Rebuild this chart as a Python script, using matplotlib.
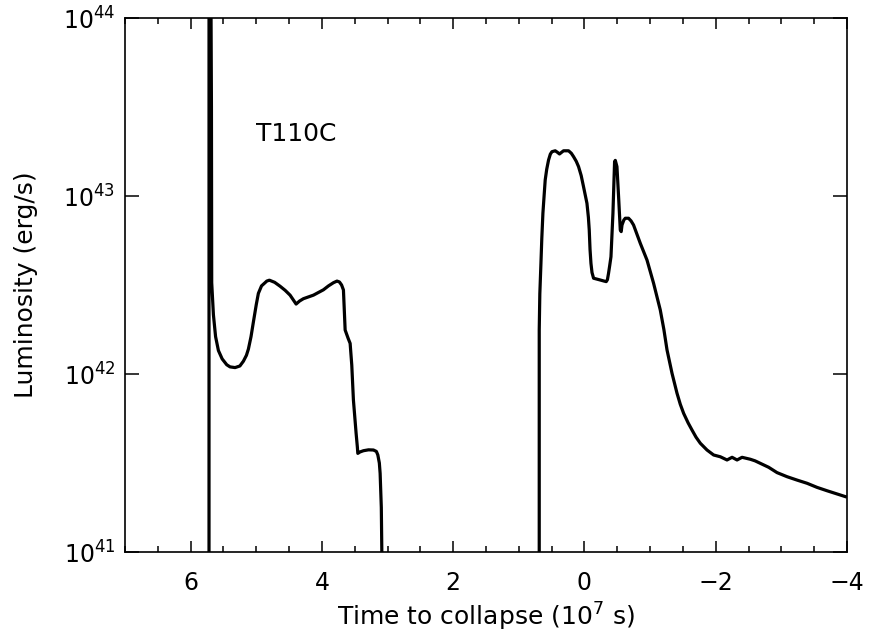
import numpy as np
import matplotlib
matplotlib.use('Agg')
import matplotlib.pyplot as plt
from matplotlib.ticker import MultipleLocator, LogLocator, NullLocator

# first phase (time in 1e7 s, log10 luminosity)
t1 = [5.72, 5.72, 5.695, 5.683, 5.679, 5.653, 5.62, 5.577, 5.52, 5.450, 5.40, 5.323,
      5.25, 5.196, 5.150, 5.120, 5.08, 5.044, 5.00, 4.968, 4.92, 4.866, 4.84, 4.800,
      4.72, 4.637, 4.56, 4.485, 4.393, 4.34, 4.282, 4.129, 3.977, 3.90, 3.824, 3.77,
      3.733, 3.70, 3.672, 3.646, 3.600, 3.570, 3.545, 3.520, 3.479, 3.46, 3.453,
      3.42, 3.367, 3.29, 3.215, 3.17, 3.148, 3.125, 3.113, 3.095, 3.087, 3.083]
logL1 = [40.5, 44.5, 44.5, 43.5, 42.513, 42.333, 42.21, 42.132, 42.085, 42.052, 42.040, 42.036,
         42.045, 42.072, 42.105, 42.14, 42.21, 42.292, 42.39, 42.453, 42.495, 42.513, 42.522, 42.527,
         42.515, 42.493, 42.47, 42.443, 42.393, 42.41, 42.423, 42.443, 42.473, 42.495, 42.513, 42.522,
         42.517, 42.50, 42.472, 42.247, 42.20, 42.172, 42.05, 41.854, 41.667, 41.59, 41.554,
         41.562, 41.569, 41.574, 41.573, 41.565, 41.545, 41.50, 41.442, 41.25, 41.0, 40.5]

# second phase
t2 = [0.689, 0.689, 0.680, 0.663, 0.650, 0.633, 0.615, 0.598, 0.575, 0.547, 0.520, 0.495,
      0.445, 0.410, 0.380, 0.350, 0.319, 0.242, 0.200, 0.166, 0.125, 0.090, 0.050, 0.014,
      -0.038, -0.060, -0.073, -0.085, -0.099, -0.115, -0.139, -0.241, -0.300, -0.332,
      -0.350, -0.367, -0.385, -0.404, -0.434, -0.459, -0.470, -0.495, -0.520, -0.546,
      -0.560, -0.572, -0.600, -0.622, -0.672, -0.710, -0.748, -0.851, -0.953, -1.053,
      -1.155, -1.210, -1.258, -1.334, -1.410, -1.460, -1.511, -1.580, -1.639, -1.700,
      -1.765, -1.867, -1.968, -2.070, -2.172, -2.249, -2.325, -2.401, -2.527, -2.600,
      -2.680, -2.806, -2.934, -3.087, -3.239, -3.392, -3.544, -3.697, -3.849, -3.976]
logL2 = [40.5, 42.247, 42.45, 42.622, 42.76, 42.903, 43.00, 43.090, 43.15, 43.202, 43.235, 43.249,
         43.254, 43.245, 43.236, 43.245, 43.254, 43.254, 43.240, 43.221, 43.195, 43.165, 43.115, 43.052,
         42.959, 42.88, 42.809, 42.70, 42.622, 42.57, 42.538, 42.528, 42.522, 42.519,
         42.530, 42.566, 42.61, 42.659, 42.903, 43.193, 43.20, 43.165, 42.996, 42.809,
         42.80, 42.837, 42.865, 42.875, 42.875, 42.86, 42.837, 42.734, 42.640, 42.510,
         42.360, 42.25, 42.135, 42.004, 41.892, 41.83, 41.779, 41.725, 41.685, 41.645,
         41.611, 41.573, 41.545, 41.535, 41.517, 41.532, 41.517, 41.532, 41.521, 41.512,
         41.498, 41.476, 41.446, 41.423, 41.404, 41.386, 41.363, 41.344, 41.326, 41.311]

fs = 17
fig = plt.figure(figsize=(8.69, 6.36), dpi=100)
ax = fig.add_axes([125/869, 1-552/636, (847-125)/869, (552-18)/636])

ax.plot(t1, 10**np.array(logL1), color='k', lw=2.3)
ax.plot(t2, 10**np.array(logL2), color='k', lw=2.3)

ax.set_yscale('log')
ax.set_xlim(7, -4)
ax.set_ylim(1e41, 1e44)

ax.xaxis.set_major_locator(MultipleLocator(2))
ax.xaxis.set_minor_locator(MultipleLocator(0.5))
ax.yaxis.set_major_locator(LogLocator(base=10, numticks=10))
ax.yaxis.set_minor_locator(NullLocator())

ax.tick_params(axis='x', which='major', direction='in', top=True, length=8, width=1.1,
               labelsize=fs, pad=14)
ax.tick_params(axis='x', which='minor', direction='in', top=True, length=4, width=1.1)
ax.tick_params(axis='y', which='major', direction='in', right=True, length=10, width=1.1,
               labelsize=fs, pad=7)
for s in ax.spines.values():
    s.set_linewidth(1.2)

ax.set_xlabel('Time to collapse ($10^7$ s)', fontsize=18, labelpad=4)
ax.set_ylabel('Luminosity (erg/s)', fontsize=18, labelpad=18)

ax.text(5.0, 10**43.35, 'T110C', fontsize=18, ha='left', va='center')

fig.savefig('out.png', dpi=100)
